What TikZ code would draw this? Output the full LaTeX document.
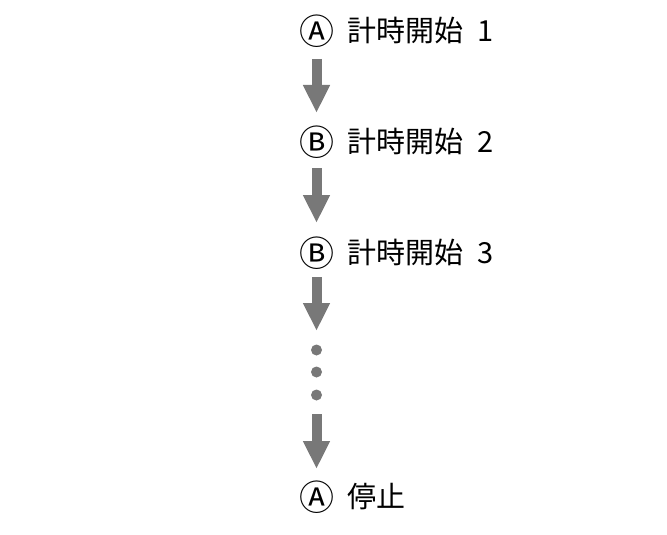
\documentclass[tikz,border=0pt]{standalone}
\usepackage{fontspec}
\setmainfont{Noto Sans CJK JP}
\usepackage{xcolor}
\usepackage{tikz}
\usetikzlibrary{arrows.meta}

\definecolor{flowgray}{HTML}{787878}

\begin{document}
\begin{tikzpicture}[x=1pt, y=-1pt,
    every node/.style={inner sep=0pt, font=\fontsize{29}{32}\selectfont},
    markletter/.style={font=\fontsize{35}{38}\selectfont},
    fatarrow/.style={flowgray, line width=10pt,
      -{Triangle[width=25pt, length=28pt]}},
    flowdot/.style={circle, fill=flowgray, minimum size=11pt}]

  \useasboundingbox (0,0) rectangle (667,535);

  % timer rows: mark, then label
  \foreach \y/\k/\n in {31/Ⓐ/1, 142/Ⓑ/2, 253/Ⓑ/3} {
    \node[markletter] (mark\n) at (316.5,\y) {\k};
    \node[anchor=west] (text\n) at (347,\y) {計時開始\hspace{0.5em}\n};
  }
  \node[markletter] (mark4) at (316.5,497) {Ⓐ};
  \node[anchor=west] (text4) at (347,497) {停止};

  % dots for the rows left out
  \foreach \i/\y in {1/350, 2/372, 3/395}
    \node[flowdot] (dot\i) at (316.5,\y) {};

  % arrows
  \draw[fatarrow, shorten <=28pt, shorten >=29pt] (mark1.center) -- (mark2.center);
  \draw[fatarrow, shorten <=26pt, shorten >=30pt] (mark2.center) -- (mark3.center);
  \draw[fatarrow, shorten <=24pt, shorten >=19pt] (mark3.center) -- (dot1.center);
  \draw[fatarrow, shorten <=19pt, shorten >=28pt] (dot3.center) -- (mark4.center);

\end{tikzpicture}
\end{document}
